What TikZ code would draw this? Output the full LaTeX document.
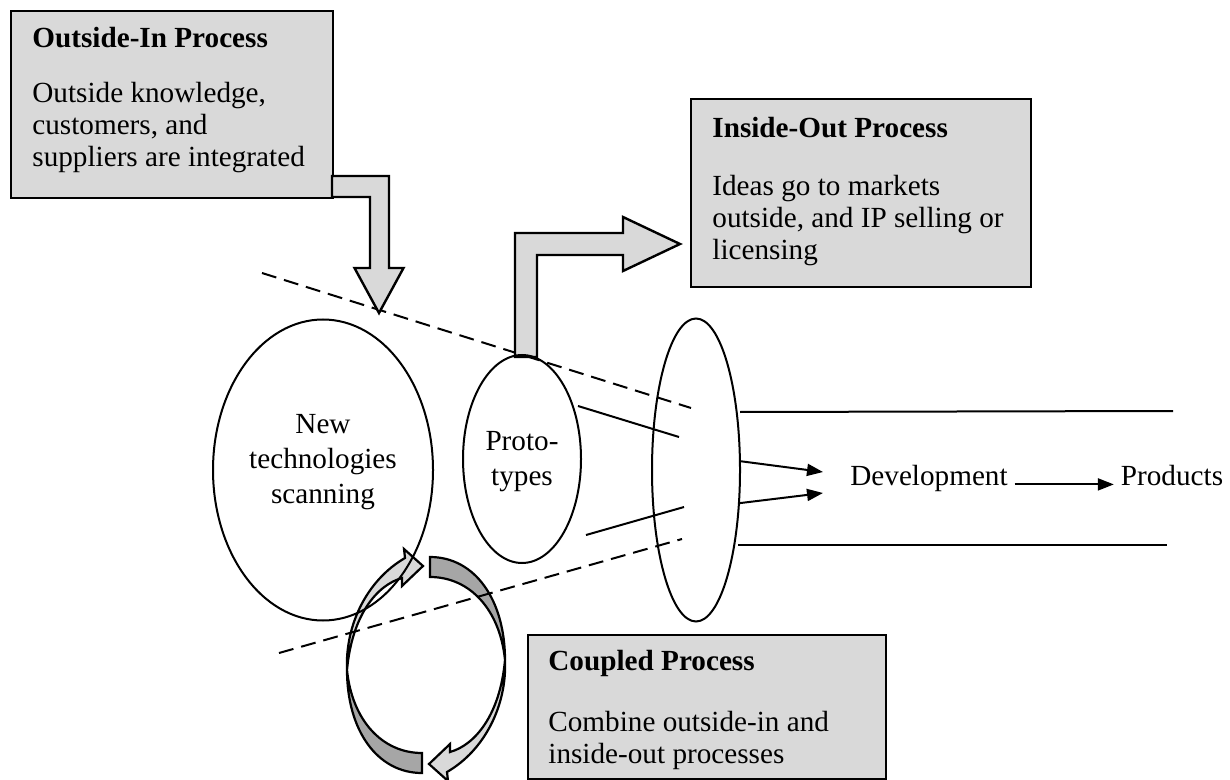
\documentclass[tikz,border=0pt]{standalone}
\usepackage{fontspec}
\setmainfont{Liberation Serif}
\usetikzlibrary{arrows.meta,shapes.geometric,positioning}
\definecolor{boxgray}{HTML}{D9D9D9}
\definecolor{backgray}{HTML}{A6A6A6}
\tikzset{
  procbox/.style={draw,line width=1.2pt,fill=boxgray,inner sep=0pt},
  blockarrow/.style={draw,line width=1.2pt,fill=boxgray,line join=miter},
  backshade/.style={draw,line width=1.1pt,fill=backgray},
  frontshade/.style={draw,line width=1.1pt,fill=boxgray},
  oval/.style={draw,ellipse,line width=1pt,inner sep=0pt},
  boxhead/.style={anchor=base west,inner sep=0pt,font=\fontsize{14.6}{16}\selectfont\bfseries},
  boxbody/.style={anchor=base west,inner sep=0pt,align=left,font=\fontsize{14.6}{16}\selectfont},
  ovaltext/.style={anchor=base,inner sep=0pt,align=center,font=\fontsize{14.6}{17.5}\selectfont},
  flow/.style={line width=1pt,-{Triangle[length=8pt,width=6pt]}},
  border/.style={line width=1pt,dash pattern=on 7.5pt off 4pt},
  plain/.style={line width=1pt}
}
\begin{document}
\begin{tikzpicture}[x=0.5pt,y=-0.5pt,font=\fontsize{14.6}{16}\selectfont]
\useasboundingbox (0,0) rectangle (1230,780);

\draw[border] (262,273) -- (691,408); % upper boundary

% the three process boxes
\node[procbox,anchor=north west,minimum width=161pt,minimum height=93.5pt] (oibox) at (10,10) {};
\node[procbox,anchor=north west,minimum width=170pt,minimum height=94pt] (iobox) at (690,98) {};
\node[procbox,anchor=north west,minimum width=179pt,minimum height=72pt] (cpbox) at (527,634) {};

% body nodes sit on the baseline of their last line
\node[boxhead] (oihead) at (32,48) {Outside-In Process};
\node[boxbody] (oibody) at (32,167) {Outside knowledge,\\customers, and\\suppliers are integrated};
\node[boxhead] (iohead) at (712,138) {Inside-Out Process};
\node[boxbody] (iobody) at (712,260) {Ideas go to markets\\outside, and IP selling or\\licensing};
\node[boxhead] (cphead) at (548,670) {Coupled Process};
\node[boxbody] (cpbody) at (548,763) {Combine outside-in and\\inside-out processes};

% bent block arrows
\draw[blockarrow] (332,176) -- (389,176) -- (389,268) -- (403.5,268) -- (379,313)
  -- (354.5,268) -- (370,268) -- (370,197) -- (332,197) -- cycle;
\draw[blockarrow] (515,357) -- (515,233) -- (623,233) -- (623,217) -- (680,244)
  -- (623,271) -- (623,255) -- (537,255) -- (537,357) -- cycle;

\node[oval,minimum width=59pt,minimum height=104pt] (proto) at (522,459) {};
\node[ovaltext] (prototext) at (522,485) {Proto-\\types};
\node[oval,minimum width=44pt,minimum height=151.5pt] (gate) at (696,470) {};

% funnel
\draw[plain] (578,406) -- (679,437);
\draw[plain] (586,535) -- (684,507);
\draw[plain] (740,412) -- (1173,411);
\draw[plain] (738,545) -- (1167,545);

% coupled process: two curved arrows
\draw[backshade] (430,557) .. controls (475,557) and (505,600) .. (505,660)
  .. controls (500,610) and (470,577) .. (430,577) -- cycle;
\draw[frontshade] (505,660) .. controls (507,705) and (485,750) .. (447,772)
  -- (448,781) -- (429,764) -- (450,744) -- (450,752)
  .. controls (475,745) and (500,715) .. (505,660) -- cycle;
\draw[backshade] (422,773) .. controls (377,773) and (347,730) .. (347,670)
  .. controls (352,720) and (382,753) .. (422,753) -- cycle;
\draw[frontshade] (347,670) .. controls (345,625) and (367,580) .. (405,558)
  -- (404,549) -- (423,566) -- (402,586) -- (402,578)
  .. controls (377,585) and (352,615) .. (347,670) -- cycle;

\node[oval,minimum width=110pt,minimum height=150.5pt] (scan) at (323,470) {};
\node[ovaltext] (scantext) at (323,503) {New\\technologies\\scanning};

\draw[border] (279,653) -- (682,539); % lower boundary

% development line
\node[anchor=base] (dev) at (929,485) {Development};
\node[anchor=base] (prod) at (1172,485) {Products};
\coordinate (devin1) at (823,472);
\coordinate (devin2) at (823,493);
\draw[flow] (gate.11) -- (devin1);
\draw[flow] (gate.-37) -- (devin2);
\draw[flow] ([yshift=-2pt]dev.mid east) -- ([yshift=-2pt]prod.mid west);

\end{tikzpicture}
\end{document}
